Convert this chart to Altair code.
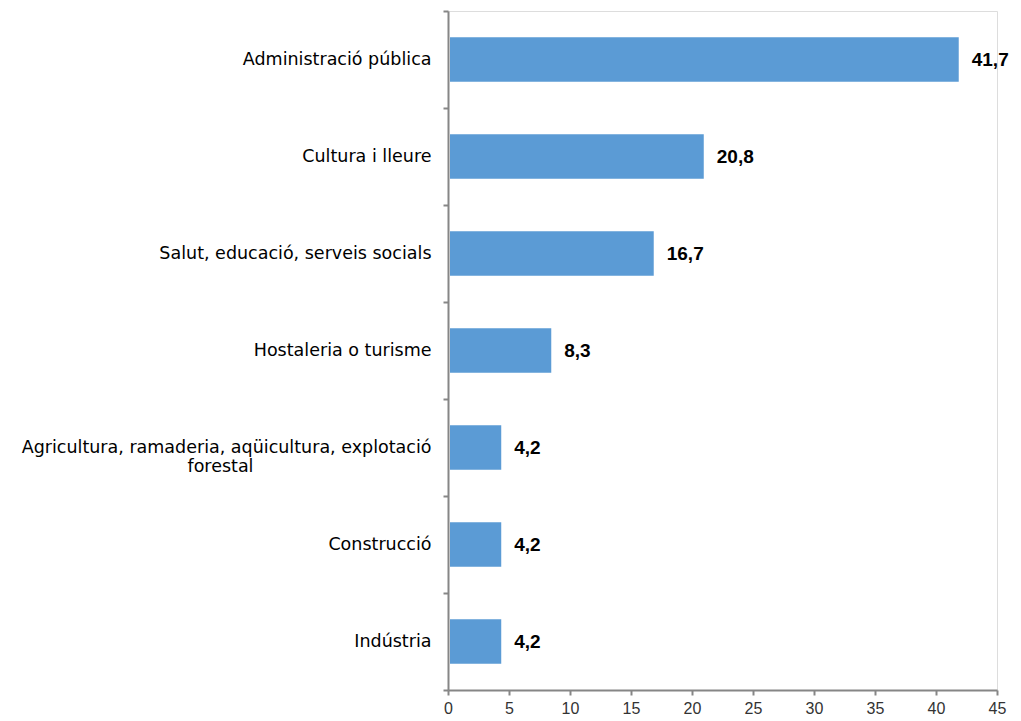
import altair as alt
import pandas as pd

categories = [
    "Administració pública",
    "Cultura i lleure",
    "Salut, educació, serveis socials",
    "Hostaleria o turisme",
    "Agricultura, ramaderia, aqüicultura, explotació forestal",
    "Construcció",
    "Indústria",
]
values = [41.7, 20.8, 16.7, 8.3, 4.2, 4.2, 4.2]
value_labels = ["41,7", "20,8", "16,7", "8,3", "4,2", "4,2", "4,2"]
x_ticks = [0, 5, 10, 15, 20, 25, 30, 35, 40, 45]

df = pd.DataFrame({"cat": categories, "val": values, "lab": value_labels})

FONT = "DejaVu Sans"
VALUE_FONT = "Liberation Sans"
TICK_FONT = "Liberation Sans"
AXIS_GRAY = "#868686"
pad = "\u00a0" * 32 + "\u200b"
label_expr = (
    "datum.label == 'Agricultura, ramaderia, aqüicultura, explotació forestal' ? "
    "['Agricultura, ramaderia, aqüicultura, explotació', 'forestal" + pad + "'] : datum.label"
)

y_enc = alt.Y(
    "cat:N",
    sort=None,
    title=None,
    scale=alt.Scale(paddingInner=0, paddingOuter=0),
    axis=alt.Axis(
        tickBand="extent",
        domainColor=AXIS_GRAY,
        domainWidth=2,
        tickColor=AXIS_GRAY,
        tickWidth=2,
        tickSize=5,
        labelPadding=12,
        labelFont=FONT,
        labelFontSize=17.5,
        labelColor="#000000",
        labelLimit=500,
        labelLineHeight=19,
        labelExpr=label_expr,
    ),
)

x_enc = alt.X(
    "val:Q",
    title=None,
    scale=alt.Scale(domain=[0, 45], nice=False),
    axis=alt.Axis(
        values=x_ticks,
        grid=False,
        domainColor=AXIS_GRAY,
        domainWidth=2,
        tickColor=AXIS_GRAY,
        tickWidth=2,
        tickSize=5,
        labelFont=TICK_FONT,
        labelFontSize=16,
        labelColor="#333333",
        labelPadding=5,
        labelFlush=False,
    ),
)

bars = alt.Chart(df).mark_bar(
    color="#5B9BD5", xOffset=2, height=alt.RelativeBandSize(0.46)
).encode(x=x_enc, y=y_enc)

texts = alt.Chart(df).mark_text(
    align="left", baseline="middle", dx=15, font=VALUE_FONT, fontSize=19, fontWeight="bold", color="#000000"
).encode(x="val:Q", y=alt.Y("cat:N", sort=None), text="lab:N")

chart = (
    alt.layer(bars, texts)
    .properties(
        width=549,
        height=679,
        autosize=alt.AutoSizeParams(type="none"),
        padding={"left": 440, "top": 3, "right": 16, "bottom": 30},
    )
    .configure_view(stroke=None)
    .configure(background="white")
)

chart.save("out.html", embed_options={"renderer": "svg", "actions": False})
